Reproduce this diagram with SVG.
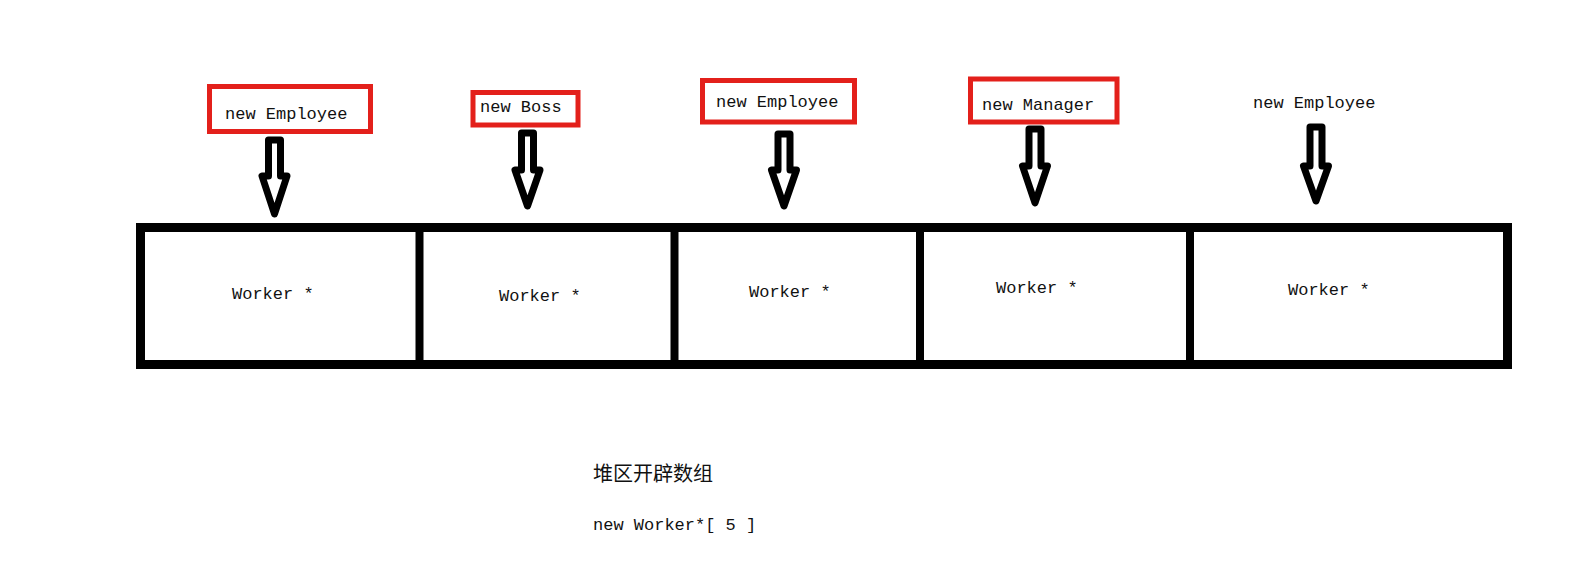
<svg xmlns="http://www.w3.org/2000/svg" width="1582" height="583" viewBox="0 0 1582 583">
<style>
.t{font-family:"Liberation Mono","DejaVu Sans Mono",monospace;font-size:17px;fill:#111}
.cjk{font-family:"Noto Sans CJK SC",sans-serif;font-size:20px;fill:#111}
.red{fill:#fff;stroke:#e3201b;stroke-width:5}
.arr{fill:#fff;stroke:#000;stroke-width:7;stroke-linejoin:round}
.cell{fill:none;stroke:#000;stroke-width:9}
</style>
<rect x="0" y="0" width="1582" height="583" fill="#fff"/>
<g id="array">
<rect class="cell" x="140.5" y="227.5" width="1367" height="137"/>
<line x1="419.5" y1="228" x2="419.5" y2="364" stroke="#000" stroke-width="8"/>
<line x1="674.5" y1="228" x2="674.5" y2="364" stroke="#000" stroke-width="8"/>
<line x1="920" y1="228" x2="920" y2="364" stroke="#000" stroke-width="8"/>
<line x1="1190" y1="228" x2="1190" y2="364" stroke="#000" stroke-width="8"/>
</g>
<g id="cell1"><text class="t" x="232" y="299">Worker *</text></g>
<g id="cell2"><text class="t" x="499" y="301">Worker *</text></g>
<g id="cell3"><text class="t" x="749" y="297">Worker *</text></g>
<g id="cell4"><text class="t" x="996" y="293">Worker *</text></g>
<g id="cell5"><text class="t" x="1288" y="295">Worker *</text></g>
<g id="n1"><rect class="red" x="209.5" y="86.5" width="161" height="45"/><text class="t" x="225" y="119">new Employee</text></g>
<g id="n2"><rect class="red" x="473" y="92.5" width="105" height="32.5"/><text class="t" x="480" y="112">new Boss</text></g>
<g id="n3"><rect class="red" x="702.5" y="80.5" width="152" height="41.5"/><text class="t" x="716" y="107">new Employee</text></g>
<g id="n4"><rect class="red" x="970.5" y="79" width="146.5" height="43"/><text class="t" x="982" y="110">new Manager</text></g>
<g id="n5"><text class="t" x="1253" y="108">new Employee</text></g>
<g id="connectors">
<path class="arr" d="M268.5,140 L280.5,140 L280.5,176 L287,176 L274.5,214 L262,176 L268.5,176 Z"/>
<path class="arr" d="M521.5,133 L533.5,133 L533.5,170 L540,170 L527.5,206 L515,170 L521.5,170 Z"/>
<path class="arr" d="M778,134 L790,134 L790,170 L796.5,170 L784,206 L771.5,170 L778,170 Z"/>
<path class="arr" d="M1029,129 L1041,129 L1041,166 L1047.5,166 L1035,203 L1022.5,166 L1029,166 Z"/>
<path class="arr" d="M1310,127 L1322,127 L1322,166 L1328.5,166 L1316,201 L1303.5,166 L1310,166 Z"/>
</g>
<g id="caption">
<text class="cjk" x="593" y="481">堆区开辟数组</text>
<text class="t" x="593" y="530">new Worker*[ 5 ]</text>
</g>
</svg>
